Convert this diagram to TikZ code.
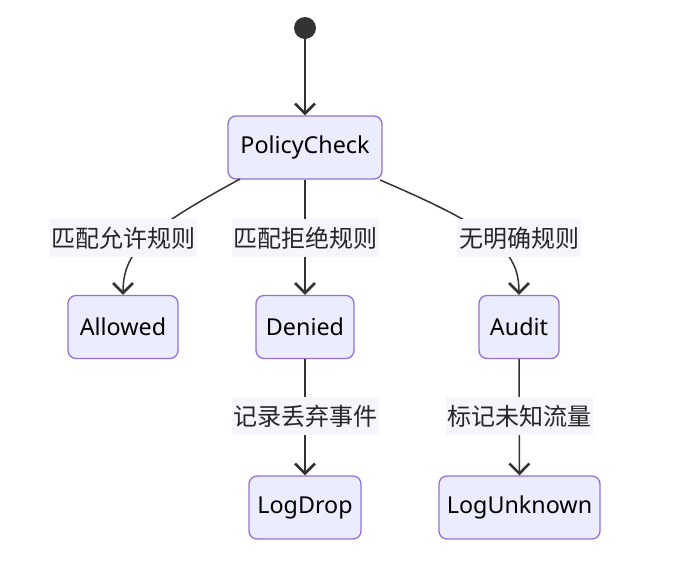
\documentclass[tikz,border=0pt]{standalone}
\usepackage{fontspec}
\setmainfont{Noto Sans}
\newfontfamily\cjk{Noto Sans CJK SC}
\usetikzlibrary{arrows.meta}
\definecolor{nodefill}{HTML}{ECECFF}
\definecolor{nodeline}{HTML}{9370DB}
\definecolor{edgecol}{HTML}{333333}
\definecolor{lblbg}{HTML}{F5F5FB}
\tikzset{
  state/.style={draw=nodeline, fill=nodefill, line width=1.3pt, rounded corners=8pt,
    minimum height=63pt, inner sep=0pt, font=\fontsize{23.3}{26}\selectfont, text=black},
  lbl/.style={fill=lblbg, inner sep=0pt, minimum height=38pt, font=\cjk\fontsize{24}{27}\selectfont, text=black!85},
  edge/.style={draw=edgecol, line width=1.5pt, -{Straight Barb[length=10pt,width=20pt,line width=2.6pt]}},
}
\begin{document}
\begin{tikzpicture}[x=1pt,y=-1pt]
\useasboundingbox (0,0) rectangle (685,563);
\node[circle, fill=edgecol, minimum size=22pt, inner sep=0pt] (start) at (305,28) {};
\node[state, minimum width=154pt] (pc) at (305,147.5) {PolicyCheck};
\node[state, minimum width=110pt] (allowed) at (123,327) {Allowed};
\node[state, minimum width=98pt] (denied) at (305,327) {Denied};
\node[state, minimum width=80pt] (audit) at (519,327) {Audit};
\node[state, minimum width=112pt] (logdrop) at (305,507.5) {LogDrop};
\node[state, minimum width=161pt] (logunk) at (519.5,507.5) {LogUnknown};
\coordinate (pcl) at (240,179);
\coordinate (pcr) at (380,180);
\draw[edge] (start) -- (pc);
\draw[edge] (pcl) .. controls (150,228) and (123,250) .. (allowed.north);
\draw[edge] (pc) -- (denied);
\draw[edge] (pcr) .. controls (492,228) and (519,250) .. (audit.north);
\draw[edge] (denied) -- (logdrop);
\draw[edge] (audit) -- (logunk);
\node[lbl, minimum width=147pt] (l1) at (123.5,238) {匹配允许规则};
\node[lbl, minimum width=147pt] (l2) at (305,238) {匹配拒绝规则};
\node[lbl, minimum width=124pt] (l3) at (519,238) {无明确规则};
\node[lbl, minimum width=147pt] (l4) at (305,416) {记录丢弃事件};
\node[lbl, minimum width=147pt] (l5) at (519,416) {标记未知流量};
\end{tikzpicture}
\end{document}
